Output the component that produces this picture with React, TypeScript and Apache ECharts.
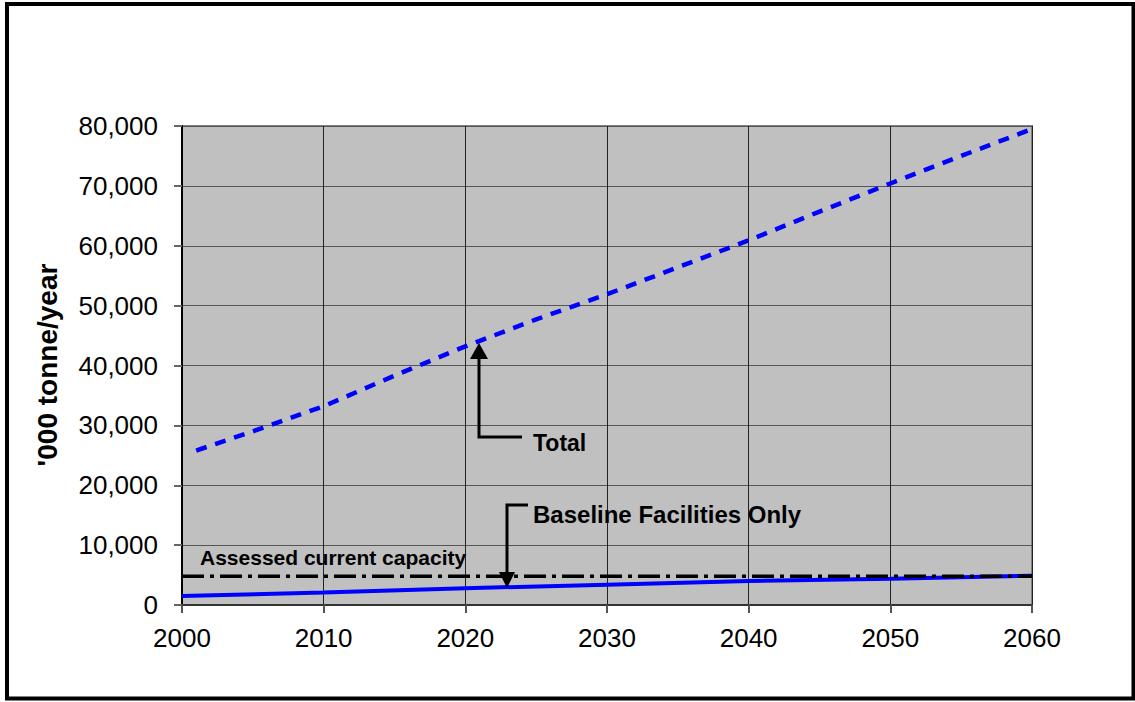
import React, { useEffect, useRef } from "react";
import * as echarts from "echarts";

const xTicks = [2000, 2010, 2020, 2030, 2040, 2050, 2060];
const yTicks = [0, 10000, 20000, 30000, 40000, 50000, 60000, 70000, 80000];

const totalYears = [2001, 2005, 2010, 2015, 2020, 2025, 2030, 2035, 2040, 2045, 2050, 2055, 2060];
const totalValues = [25800, 29000, 33200, 38300, 43200, 47700, 51900, 56400, 60900, 65700, 70400, 75000, 79500];

const baselineYears = [2000, 2010, 2020, 2030, 2040, 2050, 2060];
const baselineValues = [1500, 2100, 2800, 3400, 4000, 4400, 4900];

const capacityYears = [2000, 2060];
const capacityValues = [4800, 4800];

const labelTotal = "Total";
const labelBaseline = "Baseline Facilities Only";
const labelCapacity = "Assessed current capacity";
const yTitle = "'000 tonne/year";

const FONT = "Arial, 'Liberation Sans', sans-serif";

export default function App() {
  const ref = useRef<HTMLDivElement>(null);
  useEffect(() => {
    if (!ref.current) return;
    const chart = echarts.init(ref.current, null, { renderer: "svg" });
    const zip = (xs: number[], ys: number[]) => xs.map((x, i) => [x, ys[i]]);
    chart.setOption({
      animation: false,
      backgroundColor: "#ffffff",
      grid: {
        left: 182,
        right: 103,
        top: 126,
        bottom: 97,
        show: true,
        backgroundColor: "#C0C0C0",
        borderColor: "#808080",
        borderWidth: 2,
      },
      xAxis: {
        type: "value",
        min: xTicks[0],
        max: xTicks[xTicks.length - 1],
        interval: 10,
        axisLine: { show: true, lineStyle: { color: "#333", width: 2 } },
        axisTick: { show: true, length: 8, lineStyle: { color: "#555", width: 2 } },
        axisLabel: { color: "#000", fontSize: 26, fontFamily: FONT, margin: 20, formatter: (v: number) => String(v) },
        splitLine: { show: true, lineStyle: { color: "#222", width: 1 } },
      },
      yAxis: {
        type: "value",
        min: yTicks[0],
        max: yTicks[yTicks.length - 1],
        interval: 10000,
        axisLine: { show: true, lineStyle: { color: "#000", width: 2 } },
        axisTick: { show: true, length: 8, lineStyle: { color: "#666", width: 2 } },
        axisLabel: {
          color: "#000",
          fontSize: 26,
          fontFamily: FONT,
          margin: 24,
          formatter: (v: number) => v.toLocaleString("en-US"),
        },
        splitLine: { show: true, lineStyle: { color: "#555", width: 1 } },
      },
      series: [
        {
          name: "Total",
          type: "line",
          data: zip(totalYears, totalValues),
          showSymbol: false,
          lineStyle: { color: "#0000FF", width: 4.5, type: [11, 9] },
          z: 3,
        },
        {
          name: "Assessed current capacity",
          type: "line",
          data: zip(capacityYears, capacityValues),
          showSymbol: false,
          lineStyle: { color: "#000", width: 3.5, type: [22, 6, 4, 6] },
          z: 4,
        },
        {
          name: "Baseline Facilities Only",
          type: "line",
          data: zip(baselineYears, baselineValues),
          showSymbol: false,
          lineStyle: { color: "#0000FF", width: 4 },
          z: 3,
        },
      ],
      graphic: [
        {
          type: "rect",
          shape: { x: 7, y: 4, width: 1126.5, height: 694.5 },
          style: { fill: "none", stroke: "#000", lineWidth: 4 },
          z: 100,
        },
        {
          type: "text",
          x: 47,
          y: 365,
          rotation: Math.PI / 2,
          style: {
            text: yTitle,
            font: `bold 28px ${FONT}`,
            fill: "#000",
            align: "center",
            verticalAlign: "middle",
          },
        },
        // Total annotation
        {
          type: "polyline",
          shape: { points: [[522, 437], [479, 437], [479, 356]] },
          style: { stroke: "#000", lineWidth: 3, fill: "none" },
          z: 50,
        },
        {
          type: "polygon",
          shape: { points: [[470, 359], [488, 359], [479, 343]] },
          style: { fill: "#000" },
          z: 50,
        },
        {
          type: "text",
          x: 533,
          y: 443,
          style: { text: labelTotal, font: `bold 23px ${FONT}`, fill: "#000", verticalAlign: "middle" },
          z: 50,
        },
        // Baseline annotation
        {
          type: "polyline",
          shape: { points: [[528, 505], [507, 505], [507, 574]] },
          style: { stroke: "#000", lineWidth: 3, fill: "none" },
          z: 50,
        },
        {
          type: "polygon",
          shape: { points: [[499, 572], [515, 572], [507, 588]] },
          style: { fill: "#000" },
          z: 50,
        },
        {
          type: "text",
          x: 533,
          y: 514,
          style: { text: labelBaseline, font: `bold 24px ${FONT}`, fill: "#000", verticalAlign: "middle" },
          z: 50,
        },
        {
          type: "text",
          x: 200,
          y: 557,
          style: { text: labelCapacity, font: `bold 21px ${FONT}`, fill: "#000", verticalAlign: "middle" },
          z: 50,
        },
      ],
    });
    return () => chart.dispose();
  }, []);
  return (
    <div
      ref={ref}
      style={{ position: "fixed", left: 0, top: 0, width: 1135, height: 702, background: "#fff" }}
    />
  );
}
